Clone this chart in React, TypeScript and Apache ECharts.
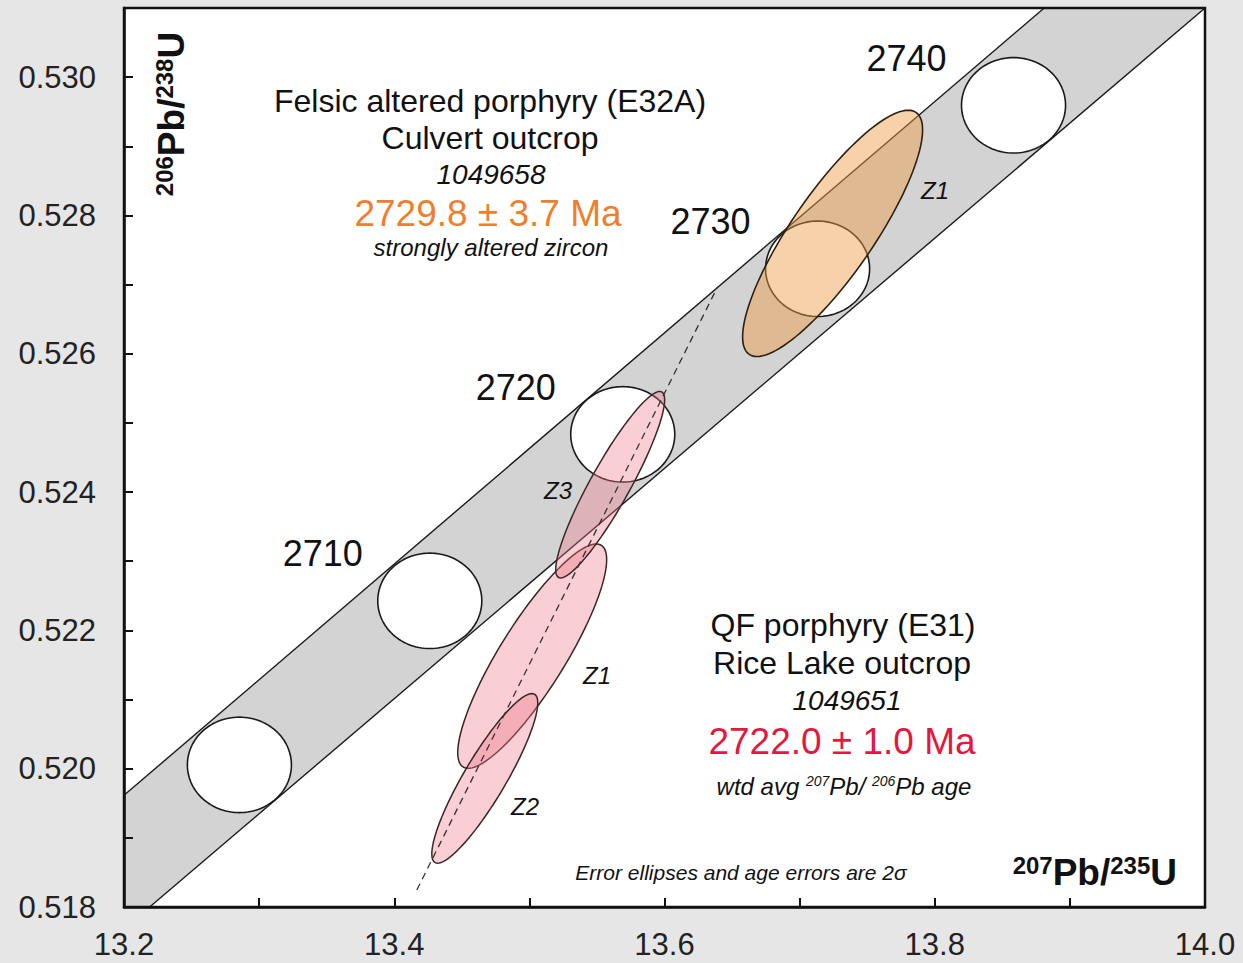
import React, { useEffect, useRef } from "react";
import * as echarts from "echarts";

// ---------- data ----------
const xMin = 13.2;
const xMax = 14.0;
const xInterval = 0.1;
const yMin = 0.518;
const yMax = 0.531;
const yInterval = 0.001;

// concordia age markers (Ma) and their positions
const concordiaAges = [2700, 2710, 2720, 2730, 2740];
const concordiaX = [13.2854, 13.4263, 13.5691, 13.7133, 13.8583];
const concordiaY = [0.520055, 0.522427, 0.524835, 0.527229, 0.529593];
const concordiaLabelShown = [false, true, true, true, true];
const markerErrX = 0.0385;
const markerErrY = 0.00069;

// concordia error envelope edges
const bandUpper = [
  [13.2, 0.519615],
  [13.881, 0.531],
];
const bandLower = [
  [13.219, 0.518],
  [14.0, 0.531],
];

// QF porphyry (E31) zircons
const e31Names = ["Z1", "Z2", "Z3"];
const e31X = [13.5021, 13.467, 13.5598];
const e31Y = [0.521627, 0.51986, 0.524107];
const e31ErrX = [0.0551, 0.0392, 0.0403];
const e31ErrY = [0.001622, 0.001226, 0.001348];
const e31Rho = [0.86, 0.89, 0.91];

// Felsic altered porphyry (E32A) zircon
const e32aNames = ["Z1"];
const e32aX = [13.7244];
const e32aY = [0.527741];
const e32aErrX = [0.0666];
const e32aErrY = [0.001781];
const e32aRho = [0.84];

// discordia (dashed) line
const discordia = [
  [13.4167, 0.518245],
  [13.6393, 0.526969],
];

const FONT = '"Liberation Sans", Arial, Helvetica, sans-serif';

function ellipseItem(fill: string, stroke: string, lineWidth: number) {
  return (params: any, api: any) => {
    const cx = api.value(0);
    const cy = api.value(1);
    const ex = api.value(2);
    const ey = api.value(3);
    const rho = api.value(4);
    const s = Math.sqrt(1 - rho * rho);
    const pts: number[][] = [];
    const n = 120;
    for (let k = 0; k < n; k++) {
      const t = (2 * Math.PI * k) / n;
      pts.push(
        api.coord([
          cx + ex * Math.cos(t),
          cy + ey * (rho * Math.cos(t) + s * Math.sin(t)),
        ])
      );
    }
    return {
      type: "polygon",
      shape: { points: pts },
      style: { fill, stroke, lineWidth },
    };
  };
}

export default function App() {
  const ref = useRef<HTMLDivElement>(null);

  useEffect(() => {
    if (!ref.current) return;
    const chart = echarts.init(ref.current, undefined, { renderer: "svg" });

    const markerRows = concordiaX.map((x, i) => [x, concordiaY[i], markerErrX, markerErrY, 0]);
    const e31Rows = e31X.map((x, i) => [x, e31Y[i], e31ErrX[i], e31ErrY[i], e31Rho[i]]);
    const e32aRows = e32aX.map((x, i) => [x, e32aY[i], e32aErrX[i], e32aErrY[i], e32aRho[i]]);

    const txt = (
      text: string,
      x: number,
      y: number,
      font: string,
      fill = "#111",
      align = "center"
    ) => ({
      type: "text",
      x,
      y,
      z: 50,
      style: { text, font, fill, align, verticalAlign: "middle" },
    });

    const axisTitleRich = {
      sup: { fontSize: 24, fontWeight: "bold", fontFamily: FONT, fill: "#111", verticalAlign: "top", padding: [0, 0, 6, 0] },
      b: { fontSize: 37, fontWeight: "bold", fontFamily: FONT, fill: "#111" },
    };

    const option: any = {
      animation: false,
      backgroundColor: "#e6e6e6",
      grid: {
        left: 124,
        top: 8,
        width: 1081,
        height: 899,
        show: true,
        backgroundColor: "#ffffff",
        borderWidth: 0,
      },
      xAxis: {
        type: "value",
        min: xMin,
        max: xMax,
        interval: xInterval,
        z: 10,
        axisLine: { show: true, lineStyle: { color: "#111", width: 2.5 } },
        axisTick: { show: true, inside: true, length: 9, lineStyle: { color: "#111", width: 2 } },
        axisLabel: {
          margin: 22,
          fontSize: 31,
          fontFamily: FONT,
          color: "#222",
          formatter: (v: number) => (Math.round(v * 10) % 2 === 0 ? v.toFixed(1) : ""),
        },
        splitLine: { show: false },
      },
      yAxis: {
        type: "value",
        min: yMin,
        max: yMax,
        interval: yInterval,
        z: 10,
        axisLine: { show: true, lineStyle: { color: "#111", width: 2.5 } },
        axisTick: { show: true, inside: true, length: 9, lineStyle: { color: "#111", width: 2 } },
        axisLabel: {
          margin: 28,
          fontSize: 31,
          fontFamily: FONT,
          color: "#222",
          formatter: (v: number) => (Math.round(v * 1000) % 2 === 0 ? v.toFixed(3) : ""),
        },
        splitLine: { show: false },
      },
      series: [
        {
          type: "custom",
          z: 1,
          silent: true,
          data: [[bandLower[0][0], bandLower[0][1]]],
          renderItem: (params: any, api: any) => {
            const corner = api.coord([xMin, yMin]);
            const l0 = api.coord(bandLower[0]);
            const l1 = api.coord(bandLower[1]);
            const u1 = api.coord(bandUpper[1]);
            const u0 = api.coord(bandUpper[0]);
            return {
              type: "group",
              children: [
                {
                  type: "polygon",
                  shape: { points: [corner, l0, l1, u1, u0] },
                  style: { fill: "#d3d3d3", stroke: "none" },
                },
                { type: "line", shape: { x1: l0[0], y1: l0[1], x2: l1[0], y2: l1[1] }, style: { stroke: "#1a1a1a", lineWidth: 1.4 } },
                { type: "line", shape: { x1: u0[0], y1: u0[1], x2: u1[0], y2: u1[1] }, style: { stroke: "#1a1a1a", lineWidth: 1.4 } },
              ],
            };
          },
        },
        {
          type: "custom",
          z: 2,
          silent: true,
          data: markerRows,
          renderItem: (params: any, api: any) => {
            const poly = ellipseItem("#ffffff", "#1a1a1a", 1.6)(params, api);
            const c = api.coord([api.value(0), api.value(1)]);
            const i = params.dataIndex;
            const children: any[] = [poly];
            if (concordiaLabelShown[i]) {
              children.push({
                type: "text",
                x: c[0] - 107,
                y: c[1] - 47,
                style: {
                  text: String(concordiaAges[i]),
                  font: `36px ${FONT}`,
                  fill: "#111",
                  align: "center",
                  verticalAlign: "middle",
                },
              });
            }
            return { type: "group", children };
          },
        },
        {
          type: "custom",
          name: "E31",
          z: 3,
          silent: true,
          data: e31Rows,
          renderItem: ellipseItem("rgba(238,120,135,0.36)", "#3a2626", 1.5),
        },
        {
          type: "custom",
          name: "E32A",
          z: 3,
          silent: true,
          data: e32aRows,
          renderItem: ellipseItem("rgba(235,155,70,0.46)", "#2e2010", 1.6),
        },
        {
          type: "line",
          z: 4,
          silent: true,
          data: discordia,
          symbol: "none",
          lineStyle: { color: "#333", width: 1.3, type: [7, 5] },
        },
      ],
      graphic: [
        {
          type: "rect",
          z: 100,
          silent: true,
          shape: { x: 124, y: 8, width: 1081, height: 899 },
          style: { fill: "none", stroke: "#111", lineWidth: 2.5 },
        },
        // E32A block
        txt("Felsic altered porphyry (E32A)", 490, 101, `32px ${FONT}`),
        txt("Culvert outcrop", 490, 138, `32px ${FONT}`),
        txt("1049658", 491, 174, `italic 28px ${FONT}`),
        txt("2729.8 ± 3.7 Ma", 488, 213, `37px ${FONT}`, "#ef7f2c"),
        txt("strongly altered zircon", 491, 247, `italic 24px ${FONT}`),
        // E31 block
        txt("QF porphyry (E31)", 843, 625, `32px ${FONT}`),
        txt("Rice Lake outcrop", 842, 663, `32px ${FONT}`),
        txt("1049651", 847, 700, `italic 28px ${FONT}`),
        txt("2722.0 ± 1.0 Ma", 842, 741, `37px ${FONT}`, "#e5173f"),
        {
          type: "text",
          x: 844,
          y: 786,
          z: 50,
          style: {
            text: "{i|wtd avg }{s|207}{i|Pb/ }{s|206}{i|Pb age}",
            align: "center",
            verticalAlign: "middle",
            rich: {
              i: { fontSize: 24, fontStyle: "italic", fontFamily: FONT, fill: "#111" },
              s: { fontSize: 14, fontStyle: "italic", fontFamily: FONT, fill: "#111", verticalAlign: "top", padding: [0, 0, 4, 0] },
            },
          },
        },
        // ellipse labels
        txt("Z1", 935, 190, `italic 24px ${FONT}`),
        txt("Z3", 558, 490, `italic 24px ${FONT}`),
        txt("Z1", 597, 675, `italic 24px ${FONT}`),
        txt("Z2", 525, 806, `italic 24px ${FONT}`),
        // note
        txt("Error ellipses and age errors are 2σ", 741, 872, `italic 21px ${FONT}`),
        // axis titles
        {
          type: "text",
          x: 1177,
          y: 872,
          z: 50,
          style: {
            text: "{sup|207}{b|Pb/}{sup|235}{b|U}",
            align: "right",
            verticalAlign: "middle",
            rich: axisTitleRich,
          },
        },
        {
          type: "text",
          x: 171,
          y: 114,
          z: 50,
          rotation: Math.PI / 2,
          style: {
            text: "{sup|206}{b|Pb/}{sup|238}{b|U}",
            align: "center",
            verticalAlign: "middle",
            rich: axisTitleRich,
          },
        },
      ],
    };

    chart.setOption(option);
    return () => chart.dispose();
  }, []);

  return (
    <div
      ref={ref}
      style={{ position: "fixed", left: 0, top: 0, width: 1243, height: 963 }}
    />
  );
}
